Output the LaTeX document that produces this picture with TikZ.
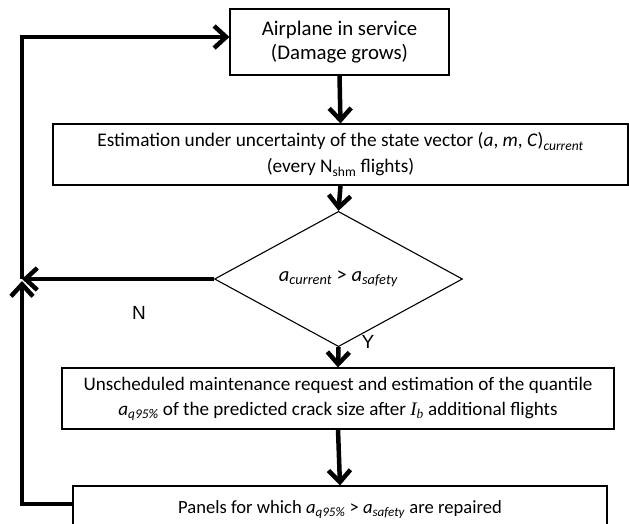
\documentclass[tikz,border=0pt]{standalone}
\usepackage{fontspec}
\setmainfont{Carlito}
\newfontfamily\arialf{Liberation Sans}
\newfontfamily\serifI{Liberation Serif}
\usetikzlibrary{arrows.meta,shapes.geometric}
\newcommand{\mysub}[1]{\textsubscript{#1}}
\begin{document}
\begin{tikzpicture}[x=1pt,y=-1pt,
  box/.style={draw, line width=1.1pt, inner sep=0pt, align=center, fill=white},
  flow/.style={line width=4.5pt, -{Straight Barb[length=12pt,width=22pt]}},
  yn/.style={font=\arialf\fontsize{19}{22}\selectfont}]
\useasboundingbox (0,0) rectangle (629,523);

\node[box, minimum width=219pt, minimum height=66pt,
  font=\fontsize{20.8}{23.5}\selectfont] (b1) at (339.5,42)
  {Airplane in service\\(Damage grows)};
\node[box, minimum width=575pt, minimum height=61pt,
  font=\fontsize{19.3}{26}\selectfont] (b2) at (340.5,154.5)
  {Estimation under uncertainty of the state vector (\textit{a}, \textit{m}, \textit{C})\mysub{\textit{current}}\\(every N\mysub{shm} flights)};
\node[draw, diamond, line width=1.1pt, inner sep=0pt, minimum width=248pt, minimum height=76pt,
  font=\fontsize{20.5}{22}\selectfont] (d) at (338.5,279)
  {\textit{a}\mysub{\textit{current}} > \textit{a}\mysub{\textit{safety}}};
\node[box, minimum width=552pt, minimum height=61pt,
  font=\fontsize{19.1}{25}\selectfont] (b3) at (338,398.5)
  {Unscheduled maintenance request and estimation of the quantile\\
   \textit{a}\mysub{\textit{q95\%}} of the predicted crack size after {\serifI\itshape I}\mysub{{\serifI\itshape b}} additional flights};
\node[box, minimum width=534pt, minimum height=48pt,
  font=\fontsize{18.6}{25}\selectfont] (b4) at (340,510)
  {Panels for which \textit{a}\mysub{\textit{q95\%}} > \textit{a}\mysub{\textit{safety}} are repaired};

\coordinate (j) at (22,279);
\coordinate (jb) at (22,504);
\coordinate (jt) at (22,37);

\draw[flow] (b1.south) -- (b2.north);
\draw[flow] (b2.south) -- (d.north);
\draw[flow] (d.south) -- (b3.north);
\draw[flow] (b3.south) -- (b4.north);
\draw[flow] (d.west) -- (j);
\draw[flow] (b4.west |- jb) -- (jb) -- ([yshift=-2pt]j);
\draw[flow] (j) -- (jt) -- (b1.west |- jt);

\node[yn] (n) at (139,313) {N};
\node[yn] (y) at (368,342) {Y};
\end{tikzpicture}
\end{document}
